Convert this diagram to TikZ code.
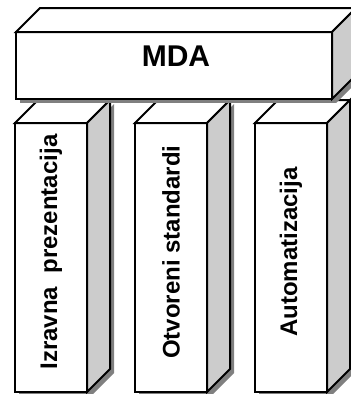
\documentclass[tikz,border=0pt]{standalone}
\usepackage{fontspec}
\setmainfont{Liberation Sans}
\usepackage{tikz}
\usetikzlibrary{calc}

\begin{document}
\begin{tikzpicture}
				[x=1pt,y=-1pt,line join=miter,
				%Styles
				face/.style={draw=black,line width=2pt,fill=white},
				side face/.style={face,fill=sidecolor},
				shadow/.style={fill=shadowcolor,draw=none},
				block text/.style={font=\bfseries\fontsize{24}{28}\selectfont,inner sep=0pt},
				title text/.style={font=\bfseries\fontsize{30}{36}\selectfont,inner sep=0pt}
				]
				
				%Colors
				\colorlet{sidecolor}{black!20}	%side faces
				\colorlet{shadowcolor}{black!50}	%drop shadows
				
				\useasboundingbox (0,0) rectangle (351,394);
				
				%The pillars
				\foreach \x/\name/\txt in {15/izravna/{Izravna\ \ prezentacija},135/otvoreni/{Otvoreni standardi},255/automatizacija/{Automatizacija}}
				{
					\fill[shadow] (\x+4,127) rectangle ++(72,269);
					\fill[shadow] (\x+76,127) -- ++(23,-23) -- ++(0,269) -- ++(-23,23) -- cycle;
					\draw[face] (\x,123) rectangle ++(72,269);
					\draw[face] (\x,123) -- ++(23,-23) -- ++(72,0) -- ++(-23,23) -- cycle;
					\draw[side face] (\x+72,123) -- ++(23,-23) -- ++(0,269) -- ++(-23,23) -- cycle;
					\node[block text,rotate=90] (\name) at (\x+36,252) {\txt};
				}
				
				%The top block
				\fill[shadow] (20,36) rectangle ++(316,67);
				\fill[shadow] (336,36) -- ++(24,-24) -- ++(0,67) -- ++(-24,24) -- cycle;
				\draw[face] (16,32) rectangle (332,99);
				\draw[face] (16,32) -- ++(24,-24) -- ++(316,0) -- ++(-24,24) -- cycle;
				\draw[side face] (332,32) -- ++(24,-24) -- ++(0,67) -- ++(-24,24) -- cycle;
				\node[title text,anchor=base] (mda) at (176,66) {MDA};
\end{tikzpicture}
\end{document}
